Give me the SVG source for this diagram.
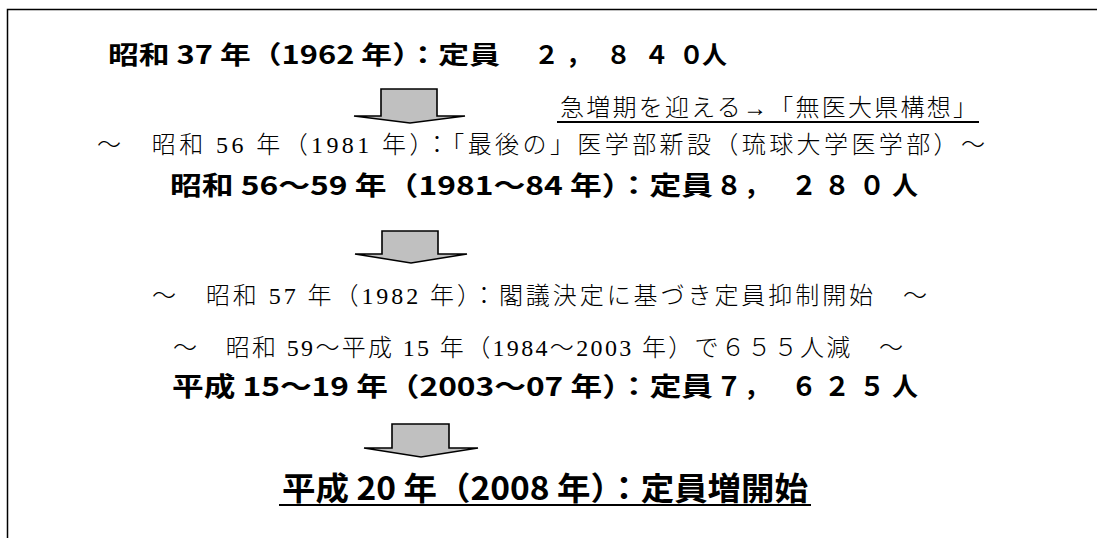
<svg xmlns="http://www.w3.org/2000/svg" width="1097" height="538" viewBox="0 0 1097 538">
<style>
.b{font-family:"Noto Sans CJK JP","Liberation Sans",sans-serif;font-weight:700;fill:#000}
.m{font-family:"Liberation Serif","Noto Sans CJK JP",serif;font-weight:300;fill:#000;font-size:24px}
.arrow{fill:#c0c0c0;stroke:#000;stroke-width:1.6;stroke-linejoin:miter}
.ul{stroke:#000;stroke-width:2}
</style>
<rect width="1097" height="538" fill="#fff"/>
<path d="M7.5,540 V9.5 H1100" fill="none" stroke="#000" stroke-width="1.5"/>
<g id="n1">
<text class="b" font-size="25" x="108" y="64" textLength="392" lengthAdjust="spacingAndGlyphs">昭和 37 年（1962 年）：定員</text>
<text class="b" font-size="25" x="534 566 606 644 679 702" y="64">２，８４０人</text>
</g>
<g id="n2">
<text class="m" x="560" y="116" textLength="417">急増期を迎える→「無医大県構想」</text>
<line class="ul" x1="557" y1="122" x2="979" y2="122"/>
</g>
<g id="n3">
<text class="m" x="97" y="153" textLength="888">～　昭和 56 年（1981 年）：「最後の」医学部新設（琉球大学医学部）～</text>
</g>
<g id="n4">
<text class="b" font-size="26" x="170" y="195" textLength="543" lengthAdjust="spacingAndGlyphs">昭和 56～59 年（1981～84 年）：定員</text>
<text class="b" font-size="26" x="716 744 791 824 859 892" y="195">８，２８０人</text>
</g>
<g id="n5">
<text class="m" x="152" y="304" textLength="775">～　昭和 57 年（1982 年）：閣議決定に基づき定員抑制開始　～</text>
</g>
<g id="n6">
<text class="m" x="173" y="356" textLength="730">～　昭和 59～平成 15 年（1984～2003 年）で６５５人減　～</text>
</g>
<g id="n7">
<text class="b" font-size="26" x="172" y="396" textLength="541" lengthAdjust="spacingAndGlyphs">平成 15～19 年（2003～07 年）：定員</text>
<text class="b" font-size="26" x="716 744 791 824 859 892" y="396">７，６２５人</text>
</g>
<g id="n8">
<text class="b" font-size="32" x="282" y="500" textLength="526" lengthAdjust="spacingAndGlyphs">平成 20 年（2008 年）：定員増開始</text>
<line class="ul" x1="279" y1="505" x2="811" y2="505"/>
</g>
<g id="connectors">
<polygon class="arrow" points="381,89 437,89 437,116 465,116 410,123 354,116 381,116"/>
<polygon class="arrow" points="382,231 438,231 438,254 467,254 411,263 355,254 382,254"/>
<polygon class="arrow" points="392,424 449,424 449,448 478,448 421,457 364,448 392,448"/>
</g>
</svg>
